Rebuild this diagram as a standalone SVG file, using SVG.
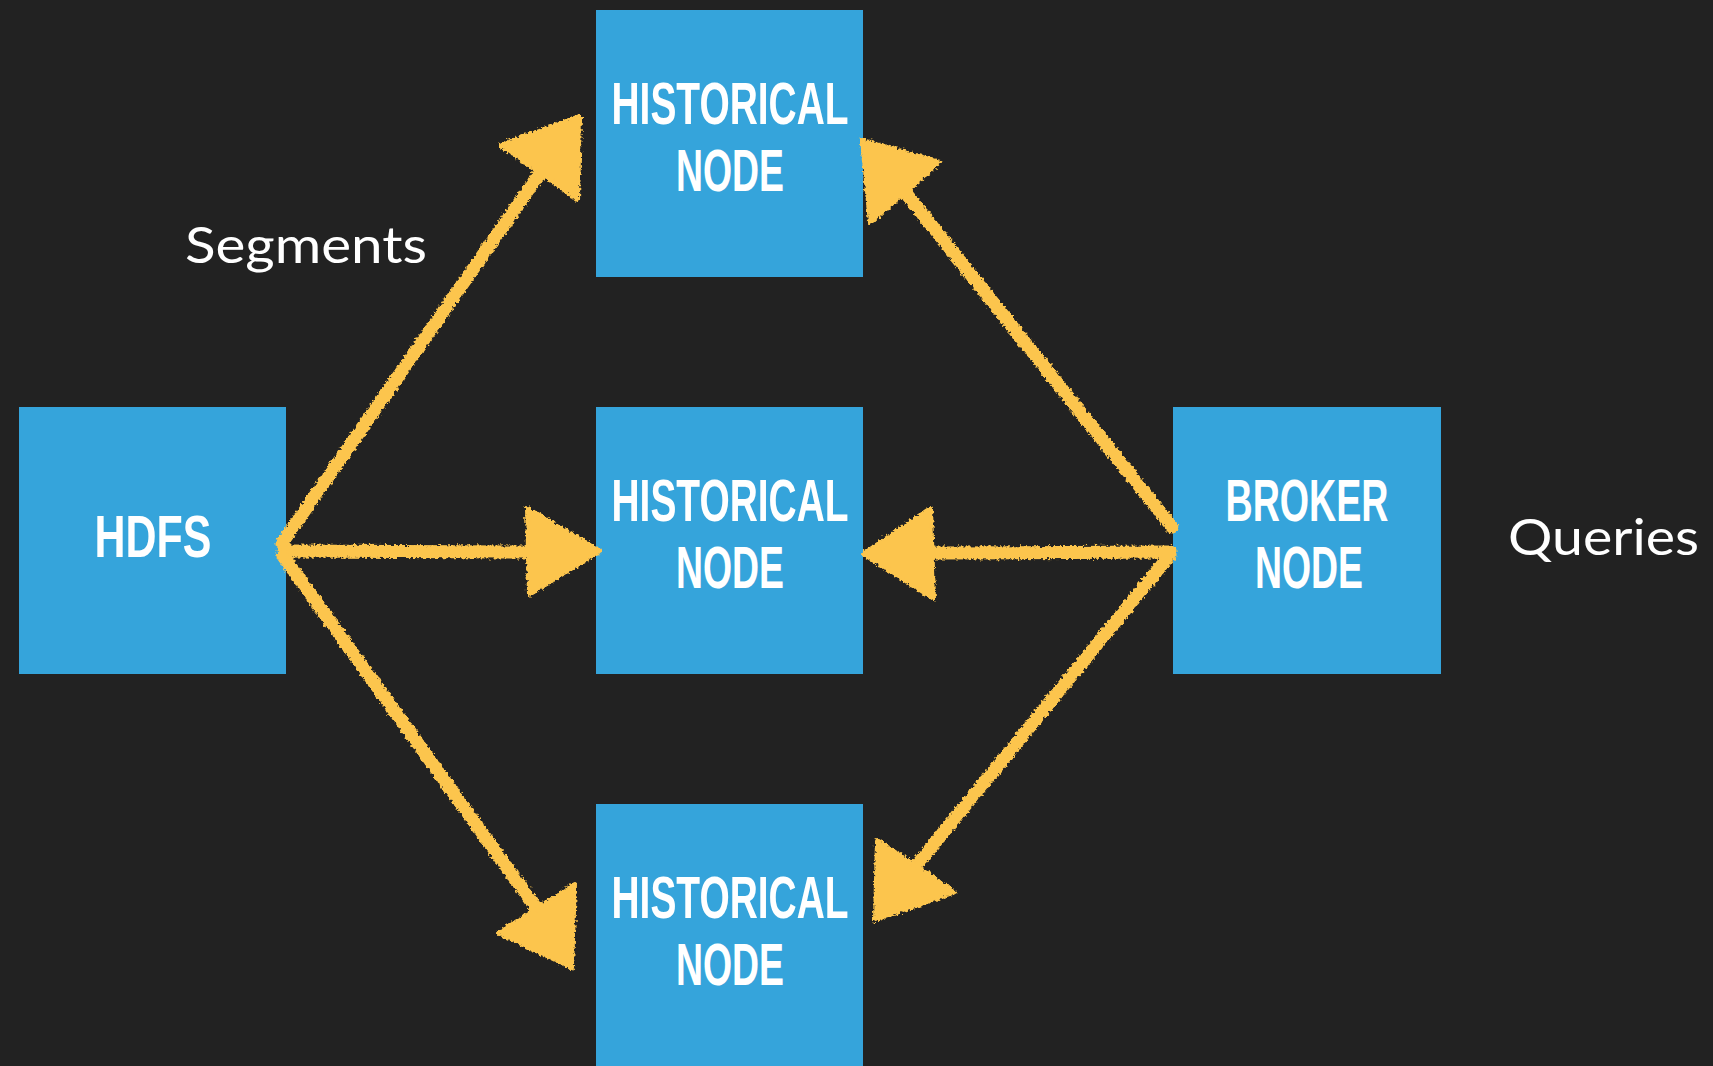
<svg xmlns="http://www.w3.org/2000/svg" width="1713" height="1066" viewBox="0 0 1713 1066">
<style>
.box{fill:#35A4DB}
.lbl{font-family:"Liberation Sans",Arial,sans-serif;font-weight:bold;fill:#ffffff;font-size:60px}
.note{font-family:Lato,"Open Sans",sans-serif;fill:#ffffff;font-size:50px}
.ln{stroke:#FCC54E;stroke-width:13;stroke-linecap:round;fill:none}
.hd{fill:#FCC54E;stroke:#FCC54E;stroke-width:4;stroke-linejoin:round}
</style>
<defs>
<filter id="chalk" x="-10%" y="-10%" width="120%" height="120%">
<feTurbulence type="fractalNoise" baseFrequency="0.35" numOctaves="2" seed="3" result="n"/>
<feDisplacementMap in="SourceGraphic" in2="n" scale="6" xChannelSelector="R" yChannelSelector="G"/>
</filter>
</defs>
<rect width="1713" height="1066" fill="#222222"/>
<g id="hdfs">
<rect class="box" x="19" y="407" width="267" height="267"/>
<text class="lbl" x="153" y="557" text-anchor="middle" font-size="74" textLength="117" lengthAdjust="spacingAndGlyphs">HDFS</text>
</g>
<g id="historical1">
<rect class="box" x="596" y="10" width="267" height="267"/>
<text class="lbl" x="730" y="124" text-anchor="middle" textLength="237" lengthAdjust="spacingAndGlyphs">HISTORICAL</text>
<text class="lbl" x="730" y="191" text-anchor="middle" textLength="108" lengthAdjust="spacingAndGlyphs">NODE</text>
</g>
<g id="historical2">
<rect class="box" x="596" y="407" width="267" height="267"/>
<text class="lbl" x="730" y="521" text-anchor="middle" textLength="237" lengthAdjust="spacingAndGlyphs">HISTORICAL</text>
<text class="lbl" x="730" y="588" text-anchor="middle" textLength="108" lengthAdjust="spacingAndGlyphs">NODE</text>
</g>
<g id="historical3">
<rect class="box" x="596" y="804" width="267" height="267"/>
<text class="lbl" x="730" y="918" text-anchor="middle" textLength="237" lengthAdjust="spacingAndGlyphs">HISTORICAL</text>
<text class="lbl" x="730" y="985" text-anchor="middle" textLength="108" lengthAdjust="spacingAndGlyphs">NODE</text>
</g>
<g id="broker">
<rect class="box" x="1173" y="407" width="268" height="267"/>
<text class="lbl" x="1307" y="521" text-anchor="middle" textLength="163" lengthAdjust="spacingAndGlyphs">BROKER</text>
<text class="lbl" x="1309" y="588" text-anchor="middle" textLength="108" lengthAdjust="spacingAndGlyphs">NODE</text>
</g>
<g id="segments-label">
<text class="note" x="185" y="263" textLength="242" lengthAdjust="spacingAndGlyphs">Segments</text>
</g>
<g id="queries-label">
<text class="note" x="1508" y="555" textLength="191" lengthAdjust="spacingAndGlyphs">Queries</text>
</g>
<g id="connectors" filter="url(#chalk)">
<line class="ln" x1="282" y1="543" x2="540" y2="173"/>
<polygon class="hd" points="580,116 500,145 578,200"/>
<line class="ln" x1="283" y1="551" x2="530" y2="552"/>
<polygon class="hd" points="527,508 600,551 529,595"/>
<line class="ln" x1="283" y1="556" x2="537" y2="909"/>
<polygon class="hd" points="575,884 572,968 498,933"/>
<line class="ln" x1="1172" y1="527" x2="905" y2="192"/>
<polygon class="hd" points="862,140 940,162 870,223"/>
<line class="ln" x1="1170" y1="552" x2="932" y2="553"/>
<polygon class="hd" points="863,554 931,508 934,599"/>
<line class="ln" x1="1170" y1="555" x2="916" y2="866"/>
<polygon class="hd" points="877,840 955,892 875,920"/>
</g>
</svg>
